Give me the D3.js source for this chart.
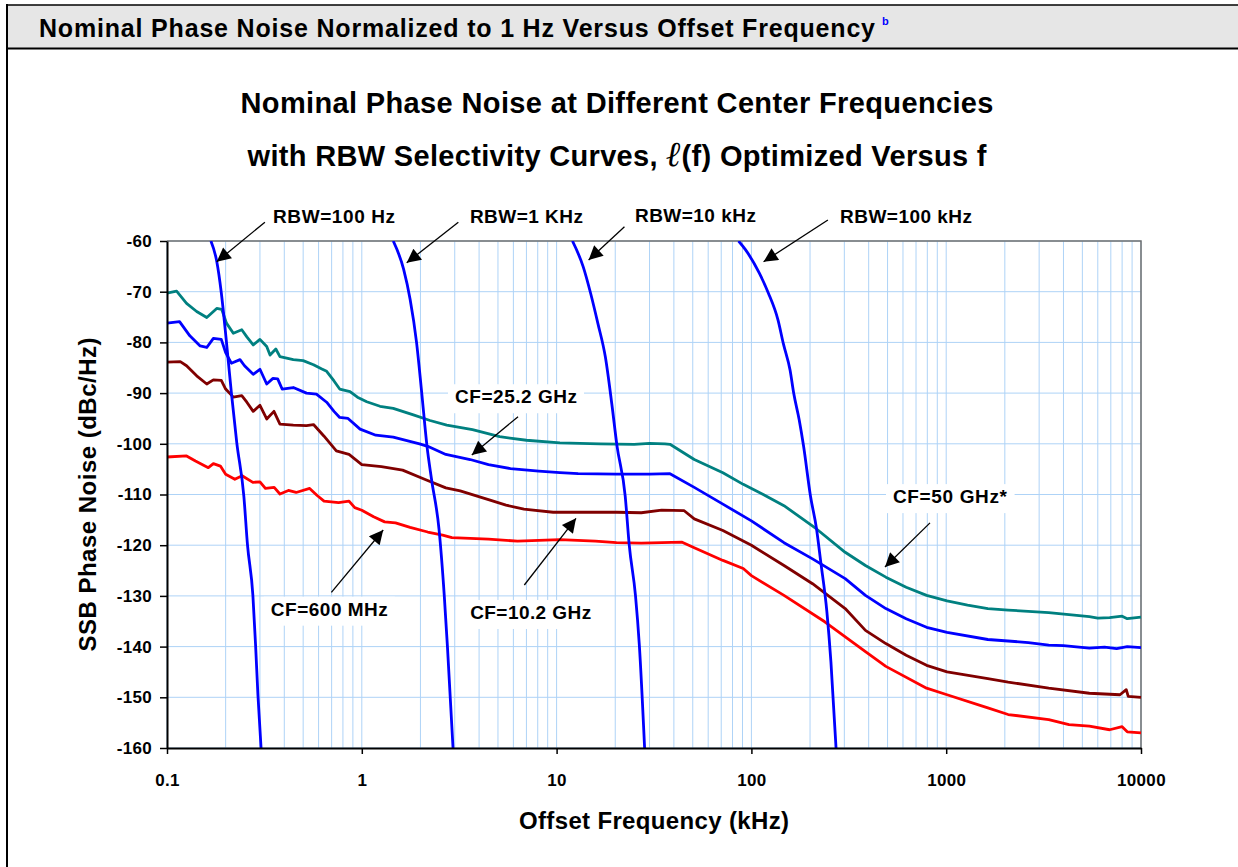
<!DOCTYPE html>
<html>
<head>
<meta charset="utf-8">
<script src="https://cdn.jsdelivr.net/npm/d3@7"></script>
<style>
  body { margin: 0; background: #fff; }
  text { font-family: Arial, "Liberation Sans", sans-serif; font-weight: bold; }
</style>
</head>
<body>
<div id="chart"></div>
<script>
// tick values on the axes
const xTicks = [0.1, 1, 10, 100, 1000, 10000];
const xTickLabels = ["0.1", "1", "10", "100", "1000", "10000"];
const yTicks = [-60, -70, -80, -90, -100, -110, -120, -130, -140, -150, -160];

// phase noise curves, [offset kHz, dBc/Hz]
const cf50GHz = [[0.1,-70.3],[0.112,-69.9],[0.126,-72.3],[0.142,-73.9],[0.16,-75.1],[0.18,-73.3],[0.191,-73.5],[0.202,-76.2],[0.219,-78.2],[0.242,-77.5],[0.257,-78.9],[0.277,-80.5],[0.3,-79.4],[0.325,-80.8],[0.338,-82.5],[0.362,-81.3],[0.38,-82.8],[0.445,-83.4],[0.5,-83.6],[0.565,-84.4],[0.62,-85.2],[0.66,-85.7],[0.72,-87.6],[0.77,-89.2],[0.87,-89.7],[0.95,-90.8],[1.06,-91.7],[1.24,-92.6],[1.45,-93.0],[1.84,-94.3],[2.24,-95.4],[2.73,-96.3],[3.7,-97.2],[5.1,-98.6],[7,-99.3],[10.4,-99.8],[16.7,-100],[25,-100.1],[30,-99.9],[36,-100],[38.2,-100.1],[50.9,-103.1],[71.4,-105.7],[90.8,-108.0],[115,-110],[147,-112.2],[216,-116.8],[303,-121.4],[385,-124],[490,-126.3],[623,-128.3],[793,-129.9],[1010,-131.0],[1287,-131.8],[1636,-132.5],[2080,-132.8],[3360,-133.3],[4270,-133.7],[5430,-134.1],[6000,-134.4],[6900,-134.3],[8000,-134.0],[8500,-134.5],[10000,-134.2]];
const cf25GHz = [[0.1,-76.2],[0.116,-75.9],[0.131,-78.7],[0.148,-80.7],[0.16,-81],[0.173,-79.2],[0.19,-79.4],[0.2,-82],[0.214,-84.1],[0.237,-83.4],[0.25,-84.6],[0.277,-86.3],[0.3,-85.3],[0.325,-88.2],[0.35,-87.1],[0.37,-87.2],[0.39,-89.2],[0.445,-88.9],[0.52,-90],[0.585,-90.2],[0.66,-91.8],[0.72,-93.6],[0.77,-94.8],[0.85,-95],[0.98,-97.1],[1.18,-98.3],[1.45,-98.7],[1.98,-100],[2.18,-100.5],[2.7,-102.1],[3.6,-103.1],[4.47,-104.1],[5.8,-104.9],[8.1,-105.4],[10.4,-105.7],[12.9,-105.9],[20.3,-106.0],[30,-106],[38.2,-105.9],[50.9,-108.6],[71.4,-111.9],[100,-115.2],[147,-119.5],[206,-122.7],[303,-126.6],[385,-129.9],[490,-132.5],[623,-134.5],[793,-136.2],[1010,-137.2],[1636,-138.6],[2640,-139.2],[3360,-139.7],[4000,-139.8],[5430,-140.3],[6500,-140.1],[7500,-140.4],[8500,-140.0],[10000,-140.2]];
const cf10GHz = [[0.1,-83.9],[0.117,-83.8],[0.126,-84.6],[0.142,-86.6],[0.16,-88.2],[0.173,-87.4],[0.19,-87.5],[0.2,-89.2],[0.219,-90.8],[0.242,-90.5],[0.257,-91.8],[0.277,-93.6],[0.3,-92.4],[0.325,-95.1],[0.354,-93.6],[0.38,-96.1],[0.445,-96.3],[0.52,-96.4],[0.565,-96.2],[0.64,-98.5],[0.74,-101.4],[0.86,-102.1],[1.0,-104.1],[1.26,-104.5],[1.62,-105.2],[2.1,-107.0],[2.7,-108.7],[3.2,-109.3],[4.47,-111.0],[5.5,-112.1],[6.8,-112.9],[9.6,-113.5],[13.5,-113.5],[20.3,-113.5],[27.2,-113.6],[34.6,-113.1],[45.2,-113.2],[50.9,-114.8],[71.4,-117.1],[100,-120],[147,-124],[206,-127.6],[303,-132.5],[385,-136.8],[490,-139.4],[623,-141.7],[793,-143.7],[1010,-145],[1636,-146.3],[2080,-147],[3360,-148.2],[5430,-149.2],[7800,-149.5],[8400,-148.5],[8600,-149.8],[10000,-150]];
const cf600MHz = [[0.1,-102.6],[0.126,-102.4],[0.14,-103.4],[0.163,-104.7],[0.173,-103.9],[0.188,-104.4],[0.2,-106],[0.223,-107],[0.243,-106.3],[0.276,-107.6],[0.3,-107.5],[0.32,-108.8],[0.355,-108.6],[0.38,-109.9],[0.42,-109.2],[0.46,-109.6],[0.54,-108.8],[0.59,-110.2],[0.64,-111.3],[0.76,-111.6],[0.86,-111.3],[0.92,-112.6],[1.0,-113.1],[1.15,-114.4],[1.31,-115.4],[1.49,-115.6],[1.77,-116.5],[2.18,-117.4],[2.6,-118],[2.9,-118.5],[4.47,-118.8],[6.3,-119.2],[10.4,-118.9],[15.8,-119.2],[20.3,-119.5],[27.2,-119.6],[44.1,-119.4],[50.9,-120.5],[71.4,-123],[90.8,-124.6],[100,-126],[147,-129.9],[238,-135.1],[385,-141],[490,-143.9],[793,-148.2],[1010,-149.5],[1636,-152.1],[2080,-153.4],[3360,-154.4],[4270,-155.4],[5430,-155.7],[6900,-156.4],[8000,-155.8],[8500,-156.8],[10000,-157]];

// RBW selectivity curves
const rbw100Hz = [[0.168,-60],[0.18,-64],[0.19,-70.2],[0.202,-80],[0.214,-89.9],[0.228,-99.7],[0.248,-110.3],[0.259,-120],[0.276,-129.9],[0.285,-139.8],[0.293,-149.6],[0.304,-160]];
const rbw1kHz = [[1.45,-60],[1.64,-65.6],[1.77,-71.5],[1.91,-80],[2.03,-89.9],[2.16,-100.4],[2.28,-107],[2.49,-116.8],[2.65,-129.9],[2.75,-139.8],[2.94,-160]];
const rbw10kHz = [[12.06,-60],[13.7,-65.1],[14.97,-70.4],[16.3,-76.3],[17.8,-82.9],[19.2,-92.1],[20.4,-100.3],[22.5,-110.3],[23.6,-120],[25.4,-129.9],[26.6,-139.8],[28.3,-160]];
const rbw100kHz = [[85.9,-60],[93.2,-61.7],[110,-66.4],[122,-70.2],[137,-75.6],[146,-80.3],[158,-85.5],[165,-90.1],[176,-95.3],[185,-100.3],[201,-110.3],[216,-116.8],[227,-123.3],[244,-133.1],[256,-143],[272,-160]];

const noiseCurves = [cf50GHz, cf25GHz, cf10GHz, cf600MHz];
const noiseColors = ["#008080", "#0000ff", "#800000", "#ff0000"];
const rbwCurves = [rbw100Hz, rbw1kHz, rbw10kHz, rbw100kHz];

// labels with arrows, in data units (text centre, arrow tail, arrow tip) and text width
const rbwNotes = [
  {text: "RBW=100 Hz",  at: [0.72, -56.35], from: [0.318, -56.3], to: [0.18, -64.1],  w: 122},
  {text: "RBW=1 KHz",   at: [7.0, -56.35],  from: [3.13, -56.3],  to: [1.70, -64.3],  w: 113},
  {text: "RBW=10 kHz",  at: [51.6, -56.2],  from: [22.3, -57.2],  to: [14.6, -63.75], w: 121},
  {text: "RBW=100 kHz", at: [622, -56.45],  from: [247, -55.85],  to: [115.5, -64.1], w: 132}
];
const cfNotes = [
  {text: "CF=25.2 GHz", at: [6.19, -92.0],   from: [6.34, -94.65],  to: [3.67, -102.2], w: 122},
  {text: "CF=600 MHz",  at: [0.681, -133.9], from: [0.698, -129.3], to: [1.288, -117.0], w: 117},
  {text: "CF=10.2 GHz", at: [7.36, -134.55], from: [6.83, -127.85], to: [12.58, -114.7], w: 121},
  {text: "CF=50 GHz*",  at: [1046, -111.7],  from: [825.7, -115.6], to: [485, -124.3], w: 114}
];

const W = 1238, H = 867;
const margin = {top: 241, right: 97, bottom: 119, left: 167},
  width = W - margin.left - margin.right,
  height = H - margin.top - margin.bottom;

const root = d3.select("#chart").append("svg")
  .attr("width", W).attr("height", H)
  .style("display", "block");

root.append("rect").attr("width", W).attr("height", H).attr("fill", "#fff");

// header band
root.append("rect").attr("x", 7).attr("y", 5).attr("width", W - 7).attr("height", 43)
  .attr("fill", "#e6e6e6");
root.append("line").attr("x1", 6).attr("x2", W).attr("y1", 5).attr("y2", 5)
  .attr("stroke", "#000").attr("stroke-width", 1.5);
root.append("line").attr("x1", 6).attr("x2", W).attr("y1", 48.5).attr("y2", 48.5)
  .attr("stroke", "#000").attr("stroke-width", 2);
root.append("line").attr("x1", 7).attr("x2", 7).attr("y1", 4).attr("y2", H)
  .attr("stroke", "#000").attr("stroke-width", 2);

root.append("text").attr("x", 39).attr("y", 37)
  .style("font-size", "25px").attr("fill", "#000")
  .attr("textLength", 836).attr("lengthAdjust", "spacing")
  .text("Nominal Phase Noise Normalized to 1 Hz Versus Offset Frequency");
root.append("text").attr("x", 882).attr("y", 25)
  .style("font-size", "11px").attr("fill", "#0000ff").text("b");

// chart title
root.append("text").attr("x", 617).attr("y", 113).attr("text-anchor", "middle")
  .style("font-size", "29px").attr("textLength", 753).attr("lengthAdjust", "spacing")
  .text("Nominal Phase Noise at Different Center Frequencies");
const t2 = root.append("text").attr("x", 617).attr("y", 166).attr("text-anchor", "middle")
  .style("font-size", "29px").attr("textLength", 739).attr("lengthAdjust", "spacing");
t2.append("tspan").text("with RBW Selectivity Curves, ");
t2.append("tspan").style("font-family", "'DejaVu Serif', serif").style("font-style", "italic")
  .style("font-size", "35px").text("\u2113");
t2.append("tspan").text("(f) Optimized Versus f");

const svg = root.append("g")
  .attr("transform", "translate(" + margin.left + "," + margin.top + ")");

const x = d3.scaleLog().domain([0.1, 10000]).range([0, width]);
const y = d3.scaleLinear().domain([-160, -60]).range([height, 0]);

svg.append("defs").append("clipPath").attr("id", "clip")
  .append("rect").attr("width", width).attr("height", height);

// grid
const gridColor = "#aed3f7";
svg.append("g").selectAll("line").data(x.ticks()).enter().append("line")
  .attr("x1", d => x(d)).attr("x2", d => x(d)).attr("y1", 0).attr("y2", height)
  .attr("stroke", gridColor).attr("stroke-width", 1);
svg.append("g").selectAll("line").data(yTicks).enter().append("line")
  .attr("x1", 0).attr("x2", width).attr("y1", d => y(d)).attr("y2", d => y(d))
  .attr("stroke", gridColor).attr("stroke-width", 1);

// top and right frame
svg.append("path").attr("d", "M0,0H" + width + "V" + height)
  .attr("fill", "none").attr("stroke", "#6f6f6f").attr("stroke-width", 1.5);

// white boxes and labels for CF notes
const cfG = svg.append("g");
cfNotes.forEach(n => {
  const t = cfG.append("text").attr("x", x(n.at[0])).attr("y", y(n.at[1]))
    .attr("text-anchor", "middle").style("font-size", "19px")
    .attr("textLength", n.w).attr("lengthAdjust", "spacing").text(n.text);
  const b = t.node().getBBox();
  cfG.insert("rect", "text").attr("x", b.x - 7).attr("y", b.y - 2)
    .attr("width", b.width + 14).attr("height", b.height + 8).attr("fill", "#fff");
});

const line = d3.line().x(d => x(d[0])).y(d => y(d[1]));
svg.append("g").selectAll("path").data(noiseCurves).enter().append("path")
  .attr("d", line).attr("fill", "none")
  .attr("stroke", (d, i) => noiseColors[i]).attr("stroke-width", 2.8)
  .attr("stroke-linejoin", "round");

const smooth = d3.line().x(d => x(d[0])).y(d => y(d[1])).curve(d3.curveMonotoneX);
svg.append("g").attr("clip-path", "url(#clip)")
  .selectAll("path").data(rbwCurves).enter().append("path")
  .attr("d", smooth).attr("fill", "none")
  .attr("stroke", "#0000ff").attr("stroke-width", 2.8);

// axes
const yAxis = svg.append("g")
  .call(d3.axisLeft(y).tickValues(yTicks).tickSize(7).tickSizeOuter(0).tickPadding(8)
    .tickFormat(d => String(d)));
const xAxis = svg.append("g").attr("transform", "translate(0," + height + ")")
  .call(d3.axisBottom(x).tickValues(xTicks).tickSize(6).tickSizeOuter(0).tickPadding(20)
    .tickFormat((d, i) => xTickLabels[i]));
[xAxis, yAxis].forEach(a => {
  a.select(".domain").attr("stroke", "#000").attr("stroke-width", 2);
  a.selectAll(".tick line").attr("stroke", "#000").attr("stroke-width", 1.5);
  a.selectAll(".tick text").attr("fill", "#000").style("font-size", "17px")
    .style("letter-spacing", "0.3px")
    .style("font-family", "Arial, 'Liberation Sans', sans-serif").style("font-weight", "bold");
});

// axis titles
svg.append("text").attr("x", width / 2).attr("y", height + 81).attr("text-anchor", "middle")
  .style("font-size", "24px").attr("textLength", 270).attr("lengthAdjust", "spacing")
  .text("Offset Frequency (kHz)");
svg.append("text").attr("transform", "translate(-71," + (height / 2) + ") rotate(-90)")
  .attr("text-anchor", "middle").style("font-size", "24px")
  .attr("textLength", 314).attr("lengthAdjust", "spacing")
  .text("SSB Phase Noise (dBc/Hz)");

// arrows
svg.append("defs").append("marker").attr("id", "head")
  .attr("viewBox", "0 0 10 10").attr("refX", 10).attr("refY", 5)
  .attr("markerUnits", "userSpaceOnUse").attr("markerWidth", 18).attr("markerHeight", 14)
  .attr("orient", "auto")
  .append("path").attr("d", "M0,0L10,5L0,10Z").attr("fill", "#000");

const notes = rbwNotes.concat(cfNotes);
svg.append("g").selectAll("line").data(notes).enter().append("line")
  .attr("x1", d => x(d.from[0])).attr("y1", d => y(d.from[1]))
  .attr("x2", d => x(d.to[0])).attr("y2", d => y(d.to[1]))
  .attr("stroke", "#000").attr("stroke-width", 1.3).attr("marker-end", "url(#head)");

svg.append("g").selectAll("text").data(rbwNotes).enter().append("text")
  .attr("x", d => x(d.at[0])).attr("y", d => y(d.at[1]))
  .attr("text-anchor", "middle").style("font-size", "19px")
  .attr("textLength", d => d.w).attr("lengthAdjust", "spacing")
  .text(d => d.text);
</script>
</body>
</html>
